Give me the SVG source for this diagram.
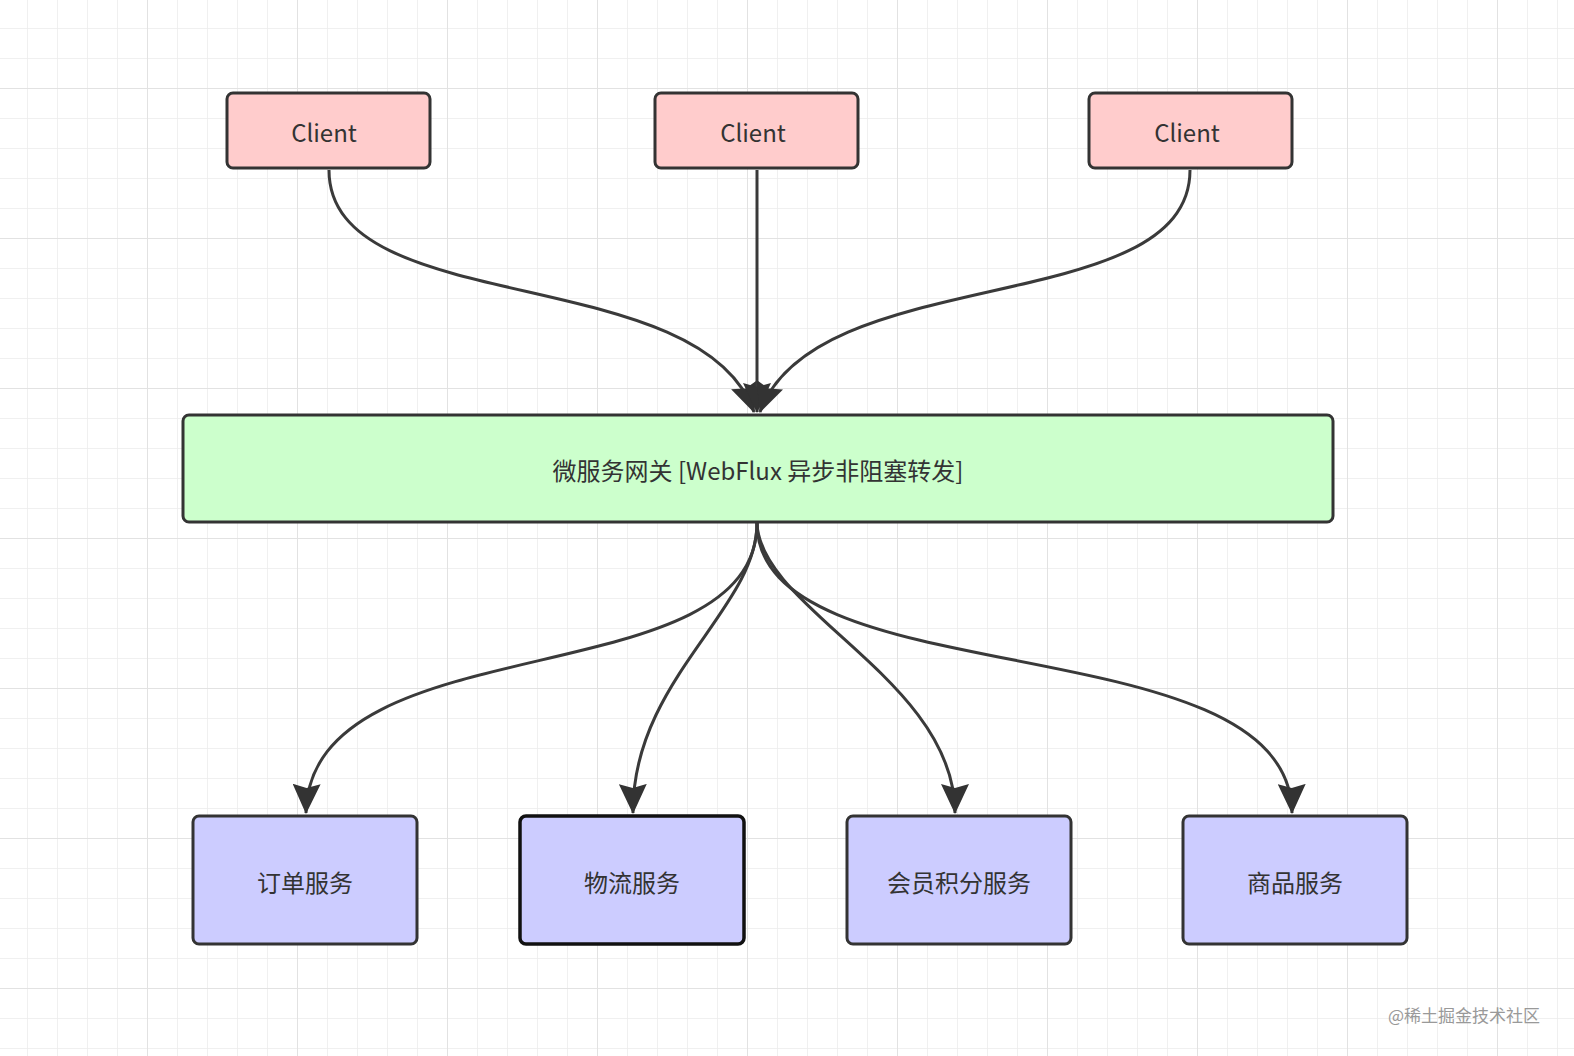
<svg xmlns="http://www.w3.org/2000/svg" width="1574" height="1056" viewBox="0 0 1574 1056">
<defs>
<pattern id="g" x="27" y="28" width="30" height="30" patternUnits="userSpaceOnUse"><path d="M0 0V30M0 0H30" fill="none" stroke="#ececec" stroke-width="1.5"/></pattern>
<pattern id="G" x="147" y="88" width="150" height="150" patternUnits="userSpaceOnUse"><path d="M0 0V150M0 0H150" fill="none" stroke="#e2e2e2" stroke-width="2"/></pattern>
<marker id="b" viewBox="0 0 30 28" refX="29" refY="14" markerWidth="30" markerHeight="28" markerUnits="userSpaceOnUse" orient="auto"><path d="M0 0L30 14L0 28L4 14Z" fill="#333"/></marker>
</defs>
<style>
.n{stroke:#333;stroke-width:3}
.t{font-family:"Noto Sans CJK SC","Noto Sans",sans-serif;font-size:24px;fill:#333;text-anchor:middle;dominant-baseline:central}
.c{fill:none;stroke:#3a3a3a;stroke-width:3}
</style>
<rect width="1574" height="1056" fill="#fff"/>
<rect width="1574" height="1056" fill="url(#g)"/>
<rect width="1574" height="1056" fill="url(#G)"/>
<g id="connectors">
<path class="c" d="M329 170C329 320 700 260 754 412" marker-end="url(#b)"/>
<path class="c" d="M757 170V412" marker-end="url(#b)"/>
<path class="c" d="M1190 170C1190 320 815 260 760 412" marker-end="url(#b)"/>
<path class="c" d="M757 523C757 700 310 620 306 813" marker-end="url(#b)"/>
<path class="c" d="M757 523C757 610 632 680 633 813" marker-end="url(#b)"/>
<path class="c" d="M757 523C760 610 955 680 955 813" marker-end="url(#b)"/>
<path class="c" d="M757 523C757 700 1290 620 1292 813" marker-end="url(#b)"/>
</g>
<g id="client1"><rect class="n" x="227" y="93" width="203" height="75" rx="6" fill="#ffcccc"/><text class="t" x="324" y="131">Client</text></g>
<g id="client2"><rect class="n" x="655" y="93" width="203" height="75" rx="6" fill="#ffcccc"/><text class="t" x="753" y="131">Client</text></g>
<g id="client3"><rect class="n" x="1089" y="93" width="203" height="75" rx="6" fill="#ffcccc"/><text class="t" x="1187" y="131">Client</text></g>
<g id="gateway"><rect class="n" x="183" y="415" width="1150" height="107" rx="6" fill="#ccffcc"/><text class="t" x="758" y="469">微服务网关 [WebFlux 异步非阻塞转发]</text></g>
<g id="s1"><rect class="n" x="193" y="816" width="224" height="128" rx="6" fill="#ccccff"/><text class="t" x="305" y="881">订单服务</text></g>
<g id="s2"><rect x="520" y="816" width="224" height="128" rx="6" fill="#ccccff" stroke="#111" stroke-width="3.5"/><text class="t" x="632" y="881">物流服务</text></g>
<g id="s3"><rect class="n" x="847" y="816" width="224" height="128" rx="6" fill="#ccccff"/><text class="t" x="959" y="881">会员积分服务</text></g>
<g id="s4"><rect class="n" x="1183" y="816" width="224" height="128" rx="6" fill="#ccccff"/><text class="t" x="1295" y="881">商品服务</text></g>
<text x="1540" y="1014" font-family="Noto Sans CJK SC,sans-serif" font-size="17" fill="#999" text-anchor="end" dominant-baseline="central">@稀土掘金技术社区</text>
</svg>
